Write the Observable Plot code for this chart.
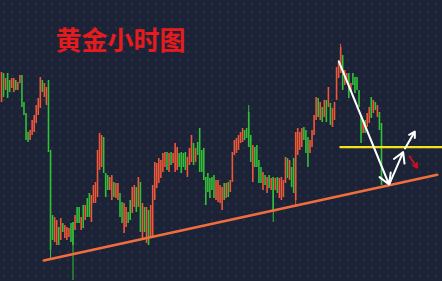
<!DOCTYPE html>
<html>
<head>
<meta charset="utf-8">
<script src="https://cdn.jsdelivr.net/npm/d3@7"></script>
<script src="https://cdn.jsdelivr.net/npm/@observablehq/plot@0.6"></script>
<style>
  html, body { margin: 0; padding: 0; }
  body {
    width: 442px; height: 281px; overflow: hidden;
    background-color: #1d2336;
    background-image: radial-gradient(circle, rgba(120,135,170,0.12) 1.1px, transparent 1.6px);
    background-size: 8px 8px;
  }
  #chart svg { display: block; }
</style>
</head>
<body>
<div id="chart"></div>
<script>
// Gold, hourly candles (bar index along x, price along y)
const open = [
  1989, 2003.5, 1995, 2003.5, 2000, 1996, 1994, 2000, 1995, 1998.5,
  2002.5, 1989, 1983.5, 1974, 1970, 1972.5, 1974, 1978.5, 1982.5, 1986,
  2000, 1991.5, 1987.5, 2000, 1965, 1932.5, 1919, 1917.5, 1926.5, 1920,
  1928.5, 1921, 1920, 1921.5, 1928.5, 1929, 1925, 1936.5, 1936.5, 1925,
  1937.5, 1930, 1941, 1943.5, 1929, 1938.5, 1938.5, 1941.5, 1955, 1956.5,
  1971.5, 1953.5, 1952.5, 1945, 1940, 1949, 1941, 1940, 1943.5, 1939,
  1923.5, 1926.5, 1934, 1940, 1933.5, 1936.5, 1946.5, 1936.5, 1949, 1920,
  1936.5, 1918.5, 1935, 1921.5, 1921, 1940, 1946, 1948.5, 1951, 1954,
  1956.5, 1964, 1954, 1964, 1958.5, 1954, 1955, 1963.5, 1964, 1963.5,
  1964, 1951.5, 1957.5, 1959, 1968.5, 1959, 1969, 1976, 1965, 1966,
  1951.5, 1953.5, 1951, 1951.5, 1952.5, 1940, 1939, 1938.5, 1935, 1948.5,
  1941, 1949, 1944, 1949, 1962.5, 1963.5, 1965, 1968.5, 1969, 1975,
  1976, 1984, 1972.5, 1949, 1966.5, 1967.5, 1960, 1956.5, 1945, 1952.5,
  1943.5, 1952.5, 1945, 1951.5, 1945, 1951.5, 1941, 1940, 1941.5, 1948.5,
  1961, 1950, 1956.5, 1961, 1940, 1962.5, 1965, 1966.5, 1976.5, 1975,
  1971.5, 1963.5, 1966.5, 1972.5, 1980, 1991, 1980, 1986.5, 1981.5, 1990,
  1986.5, 1988.5, 1976.5, 1980, 1990, 2001, 2003.5, 2012.5, 1997.5, 1998.5,
  2003.5, 1994, 2003.5, 2001.5, 2001.5, 1995, 1981.5, 1973.5, 1980, 1976.5,
  1978.5, 1991.5, 1983.5, 1989, 1981.5, 1984, 1978.5
];
const close = [
  2004, 1991.5, 2001, 1991, 1994, 2001, 2001, 1995, 1999, 2002.5,
  1986.5, 1982.5, 1970, 1969, 1975, 1980, 1982.5, 1987.5, 1991, 2001.5,
  1994, 1998.5, 1996.5, 1964, 1915, 1920, 1931.5, 1930, 1917.5, 1931,
  1924, 1927.5, 1926.5, 1926, 1919, 1917.5, 1932.5, 1928.5, 1928.5, 1931.5,
  1926, 1937.5, 1931.5, 1931.5, 1942.5, 1947.5, 1949, 1965, 1973.5, 1972.5,
  1953.5, 1941.5, 1945, 1951.5, 1952.5, 1941.5, 1948.5, 1948.5, 1931.5, 1928.5,
  1938.5, 1936.5, 1928.5, 1930, 1946.5, 1947.5, 1934, 1951.5, 1924, 1938.5,
  1924, 1936.5, 1917.5, 1937.5, 1947.5, 1959, 1958.5, 1961, 1960, 1963.5,
  1964, 1955, 1963.5, 1957.5, 1963.5, 1968.5, 1966.5, 1956.5, 1953.5, 1956.5,
  1955, 1961.5, 1966, 1972.5, 1957.5, 1966, 1962.5, 1954, 1954, 1950,
  1937.5, 1944, 1941, 1945, 1941, 1950, 1950, 1947.5, 1946.5, 1940,
  1948.5, 1941.5, 1950, 1964, 1970, 1971, 1972.5, 1974, 1976, 1970,
  1971, 1966.5, 1959, 1967.5, 1956.5, 1956.5, 1948.5, 1948.5, 1954, 1947.5,
  1951.5, 1946, 1951, 1934, 1951, 1943.5, 1951, 1951.5, 1950, 1961.5,
  1951, 1960, 1946.5, 1943.5, 1974, 1976, 1974, 1976, 1970, 1963.5,
  1956.5, 1970, 1975, 1982.5, 1991.5, 1981.5, 1989, 1979, 1990, 1979,
  1996.5, 1977.5, 1986, 1989, 2006.5, 2009, 2016.5, 1995, 2005, 2003.5,
  1991, 1998.5, 1997.5, 1993.5, 1995, 1986.5, 1968.5, 1980, 1973.5, 1983.5,
  1986.5, 1981, 1990, 1985, 1987.5, 1975, 1947.5
];

// Candles whose shadows reach beyond the body
const tailIndex = [24, 35, 121, 133, 144, 166];
const tailHigh  = [1965, 1929, 1987.5, 1951.5, 1974, 2018];
const tailLow   = [1911, 1900, 1966.5, 1929, 1936.5, 2003.5];

// Rising support line (bar index, price)
const trendX = [20.7, 213.3];
const trendY = [1910, 1952.85];

// Horizontal resistance level
const levelPrice = 1966.7;
const levelFrom = [165.9, 215.9];

// Projected path: drop to support, then rebound
const pathX1 = [165.1, 189.9, 197.5];
const pathY1 = [2009.6, 1948.3, 1966];
const pathX2 = [189.7, 196.6, 202.3];
const pathY2 = [1948, 1964.2, 1974.5];

// Alternative (failed breakout) hint
const altX = [199.7, 203.5];
const altY = [1962, 1956.5];

const title = "黄金小时图";

const UP = "#ef5739";
const DOWN = "#32c039";

const bars = open.map((o, i) => ({i, open: o, close: close[i], up: close[i] >= o}));
const tails = tailIndex.map((i, k) => ({i, high: tailHigh[k], low: tailLow[k], up: bars[i].up}));
const trend = trendX.map((x, k) => ({x, y: trendY[k]}));
const level = levelFrom.map(x => ({x, y: levelPrice}));
const path = pathX1.map((x1, k) => ({x1, y1: pathY1[k], x2: pathX2[k], y2: pathY2[k]}));
const alt = [{x1: altX[0], y1: altY[0], x2: altX[1], y2: altY[1]}];

const chart = Plot.plot({
  width: 442,
  height: 281,
  margin: 0,
  x: {domain: [0, 186], range: [1, 381], axis: null},
  y: {domain: [1899.5, 2040], axis: null},
  style: {background: "transparent", overflow: "visible"},
  marks: [
    Plot.ruleX(tails, {x: "i", y1: "low", y2: "high", stroke: d => d.up ? UP : DOWN, strokeWidth: 1}),
    Plot.ruleX(bars, {x: "i", y1: "open", y2: "close", stroke: d => d.up ? UP : DOWN, strokeWidth: 1.6}),
    Plot.line(trend, {x: "x", y: "y", stroke: "#f26d3d", strokeWidth: 2.6}),
    Plot.line(level, {x: "x", y: "y", stroke: "#f1e21d", strokeWidth: 2.4}),
    Plot.arrow(path, {x1: "x1", y1: "y1", x2: "x2", y2: "y2", stroke: "#ffffff", strokeWidth: 2, headLength: 9}),
    Plot.arrow(alt, {x1: "x1", y1: "y1", x2: "x2", y2: "y2", stroke: "#c4121a", strokeWidth: 2, headLength: 7}),
    Plot.text([title], {
      frameAnchor: "top-left", dx: 55, dy: 41,
      textAnchor: "start", lineAnchor: "middle",
      fill: "#e51b1e", fontSize: 26, fontWeight: "bold",
      fontFamily: "'Noto Sans CJK SC', sans-serif"
    })
  ]
});

document.getElementById("chart").append(chart);
</script>
</body>
</html>
